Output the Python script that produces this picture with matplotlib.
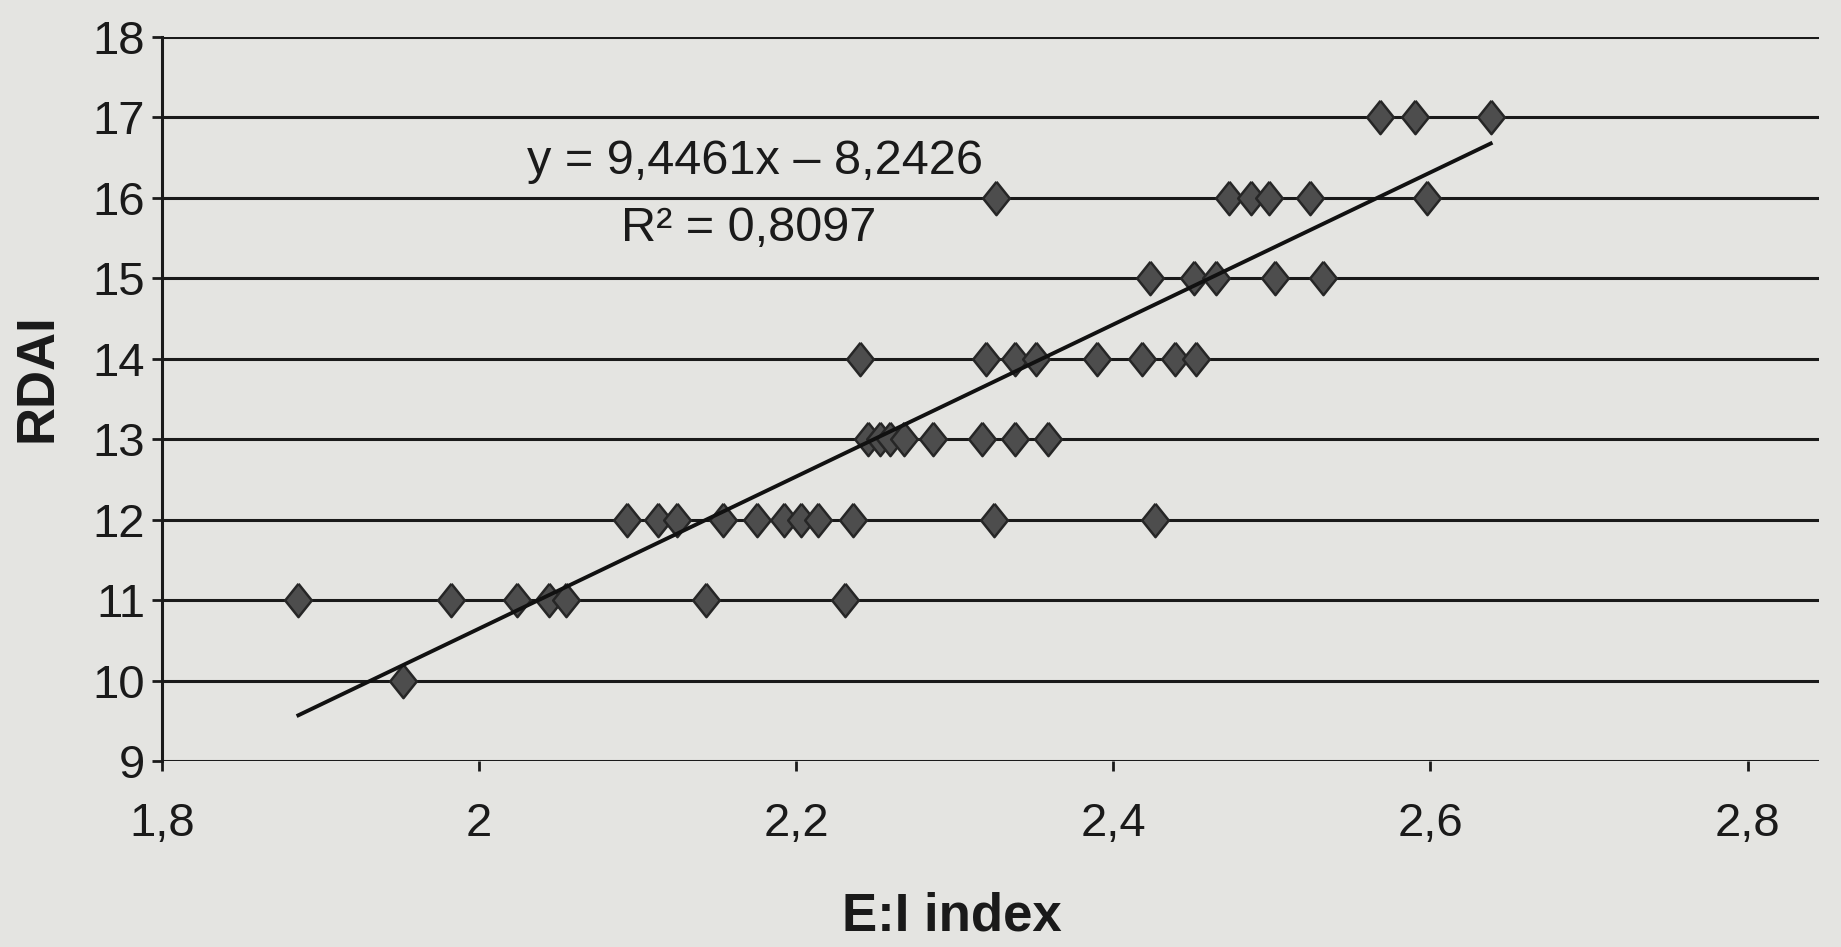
import numpy as np
import matplotlib.pyplot as plt
from matplotlib.ticker import FuncFormatter

# E:I index values per RDAI level
ei_10 = [1.952]
ei_11 = [1.886, 1.982, 2.024, 2.044, 2.055, 2.143, 2.231]
ei_12 = [2.093, 2.113, 2.125, 2.154, 2.175, 2.192, 2.203, 2.214, 2.236, 2.325, 2.426]
ei_13 = [2.245, 2.253, 2.259, 2.268, 2.286, 2.317, 2.338, 2.359]
ei_14 = [2.240, 2.320, 2.338, 2.351, 2.390, 2.418, 2.439, 2.452]
ei_15 = [2.423, 2.451, 2.465, 2.502, 2.532]
ei_16 = [2.326, 2.473, 2.487, 2.498, 2.524, 2.598]
ei_17 = [2.568, 2.590, 2.638]

rows = {10: ei_10, 11: ei_11, 12: ei_12, 13: ei_13,
        14: ei_14, 15: ei_15, 16: ei_16, 17: ei_17}

slope, intercept, r2 = 9.4461, -8.2426, 0.8097

x_ticks = [1.8, 2.0, 2.2, 2.4, 2.6, 2.8]
y_ticks = list(range(9, 19))

plt.rcParams['font.family'] = ['Liberation Sans', 'DejaVu Sans']
ink = '#1a1a1a'

fig = plt.figure(figsize=(18.41, 9.47), dpi=100, facecolor='#e4e4e1')
ax = fig.add_axes([0.088, 0.196, 0.90, 0.765])
ax.set_facecolor('#e4e4e1')

xs = np.concatenate([rows[k] for k in rows])
ys = np.concatenate([[k] * len(rows[k]) for k in rows])

# slightly tall diamond, like the Excel marker in the photo
diamond = [(0, 1), (0.8, 0), (0, -1), (-0.8, 0), (0, 1)]
ax.plot(xs, ys, linestyle='none', marker=diamond, markersize=24,
        markerfacecolor='#4d4d4d', markeredgecolor='#262626',
        markeredgewidth=1.8, zorder=3)

xl = np.array([xs.min(), xs.max()])
ax.plot(xl, slope * xl + intercept, color='#111111', linewidth=2.8, zorder=4)

ax.text(2.174, 16.45, 'y = 9,4461x \u2013 8,2426', fontsize=35,
        ha='center', va='center', color=ink)
ax.text(2.17, 15.62, 'R\u00b2 = 0,8097', fontsize=35,
        ha='center', va='center', color=ink)

ax.set_xlim(1.8, 2.845)
ax.set_ylim(9, 18)
ax.set_xticks(x_ticks)
ax.set_yticks(y_ticks)
fmt = FuncFormatter(lambda v, p: ('%g' % v).replace('.', ','))
ax.xaxis.set_major_formatter(fmt)
ax.yaxis.set_major_formatter(fmt)

ax.grid(axis='y', color=ink, linewidth=2.2)
ax.set_axisbelow(True)
for s in ['top', 'right', 'bottom']:
    ax.spines[s].set_visible(False)
ax.spines['left'].set_linewidth(2.2)
ax.spines['left'].set_color(ink)

ax.tick_params(axis='y', length=7, width=2, labelsize=34, pad=5, colors=ink)
ax.tick_params(axis='x', length=7, width=2, labelsize=34, pad=22, colors=ink)

ax.set_xlabel('E:I index', fontsize=38, fontweight='bold', color=ink)
ax.set_ylabel('RDAI', fontsize=38, fontweight='bold', color=ink)
ax.xaxis.set_label_coords(0.477, -0.18)
ax.yaxis.set_label_coords(-0.06, 0.53)

fig.savefig('out.png', dpi=100, facecolor=fig.get_facecolor())
